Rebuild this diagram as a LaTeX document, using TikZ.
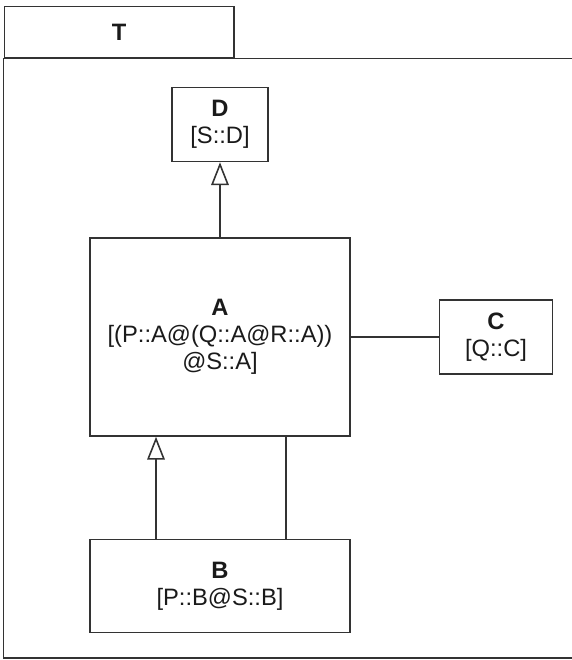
\documentclass[tikz,border=0pt]{standalone}
\usepackage{fontspec}
\setmainfont{Liberation Sans}
\usetikzlibrary{positioning, arrows.meta}
\definecolor{linegray}{HTML}{333333}
\definecolor{textgray}{HTML}{1A1A1A}

\begin{document}
\begin{tikzpicture}[x=0.02cm, y=-0.02cm,
    cls/.style={draw=linegray, line width=0.9pt, fill=white, align=center, inner sep=0pt,
      text=textgray, font=\fontsize{13.5}{15.5}\selectfont},
    lnk/.style={draw=linegray, line width=0.9pt},
    gen/.style={lnk, -{Triangle[open, length=13pt, width=10pt]}}]
    \useasboundingbox (0,0) rectangle (572,660);
    \clip (0,0) rectangle (572,660);
    % package frame
    \node[cls, anchor=north west, minimum width=4.59cm, minimum height=1.03cm] (T) at (3.6,5.5) {\textbf{T}};
    \draw[lnk] (T.south west) rectangle (590,658);
    % classes
    \node[cls, minimum width=5.2cm, minimum height=3.96cm] (A) at (220,337)
        {\textbf{A}\\{}[(P::A@(Q::A@R::A))\\@S::A]};
    \node[cls, above=1.5cm of A, minimum width=1.92cm, minimum height=1.48cm] (D) {\textbf{D}\\{}[S::D]};
    \node[cls, right=1.76cm of A, minimum width=2.26cm, minimum height=1.48cm] (C) {\textbf{C}\\{}[Q::C]};
    \node[cls, below=2.04cm of A, minimum width=5.2cm, minimum height=1.86cm] (B) {\textbf{B}\\{}[P::B@S::B]};
    % relations
    \draw[gen] (A) -- (D);
    \draw[lnk] (A) -- (C);
    \draw[gen] ([xshift=-1.28cm]B.north) -- ([xshift=-1.28cm]A.south);
    \draw[lnk] ([xshift=1.32cm]B.north) -- ([xshift=1.32cm]A.south);
\end{tikzpicture}
\end{document}
